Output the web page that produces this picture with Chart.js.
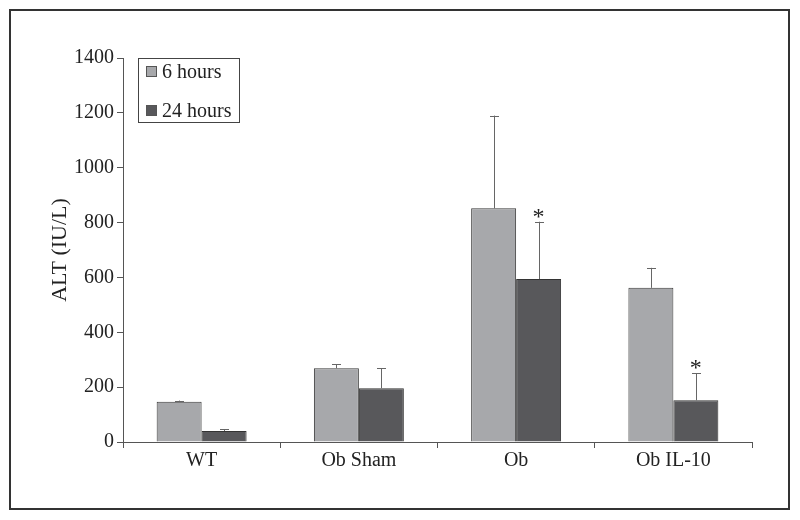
<!DOCTYPE html>
<html lang="en">
<head>
    <meta charset="UTF-8">
    <title>ALT (IU/L)</title>
    <script src="https://cdn.jsdelivr.net/npm/chart.js"></script>
    <style>
        body { margin: 0; background: #fff; }
        #grafico { display: block; }
    </style>
</head>
<body>
<canvas id="grafico" width="800" height="520"></canvas>
<script>
// data
const categories = ['WT', 'Ob Sham', 'Ob', 'Ob IL-10'];
const alt6h = [147, 269, 852, 562];
const alt24h = [40, 196, 594, 152];
const err6h = [4, 14, 338, 73];
const err24h = [6, 73, 209, 98];
const star24h = [false, false, true, true];
const yTicks = [0, 200, 400, 600, 800, 1000, 1200, 1400];

const fonte = '"Liberation Serif", "Times New Roman", serif';
const corTexto = '#222';
const corEixo = '#555';

// error bars (upward only) + asterisks
const barrasErro = {
    id: 'barrasErro',
    afterDatasetsDraw(chart) {
        const ctx = chart.ctx;
        const y = chart.scales.y;
        const erros = [err6h, err24h];
        const estrelas = [null, star24h];
        ctx.save();
        chart.data.datasets.forEach(function (ds, i) {
            const meta = chart.getDatasetMeta(i);
            meta.data.forEach(function (bar, j) {
                const topo = y.getPixelForValue(ds.data[j] + erros[i][j]);
                const base = y.getPixelForValue(ds.data[j]);
                ctx.strokeStyle = '#666';
                ctx.lineWidth = 1;
                ctx.beginPath();
                ctx.moveTo(Math.round(bar.x) + 0.5, base);
                ctx.lineTo(Math.round(bar.x) + 0.5, topo);
                ctx.moveTo(Math.round(bar.x) - 4, Math.round(topo) + 0.5);
                ctx.lineTo(Math.round(bar.x) + 5, Math.round(topo) + 0.5);
                ctx.stroke();
                if (estrelas[i] && estrelas[i][j]) {
                    ctx.fillStyle = corTexto;
                    ctx.font = '24px ' + fonte;
                    ctx.textAlign = 'center';
                    ctx.textBaseline = 'alphabetic';
                    ctx.fillText('*', bar.x, topo + 2);
                }
            });
        });
        ctx.restore();
    }
};

// legend box in the upper left of the plot + outer frame
const legendaMoldura = {
    id: 'legendaMoldura',
    afterDraw(chart) {
        const ctx = chart.ctx;
        ctx.save();
        ctx.strokeStyle = '#333';
        ctx.lineWidth = 2;
        ctx.strokeRect(10, 10, 779, 499);

        ctx.lineWidth = 1;
        ctx.strokeStyle = '#444';
        ctx.strokeRect(138.5, 58.5, 101, 64);
        ctx.font = '20px ' + fonte;
        ctx.textAlign = 'left';
        ctx.textBaseline = 'alphabetic';
        chart.data.datasets.forEach(function (ds, i) {
            const yy = 66 + i * 39;
            ctx.fillStyle = ds.backgroundColor;
            ctx.fillRect(146, yy, 11, 11);
            ctx.strokeStyle = '#555';
            ctx.strokeRect(146.5, yy + 0.5, 10, 10);
            ctx.fillStyle = corTexto;
            ctx.fillText(ds.label, 162, yy + 12);
        });
        ctx.restore();
    }
};

new Chart(document.getElementById('grafico'), {
    type: 'bar',
    data: {
        labels: categories,
        datasets: [{
            label: '6 hours',
            data: alt6h,
            backgroundColor: '#a7a8ab',
            borderColor: '#3a3a3a',
            borderWidth: 1,
            categoryPercentage: 0.572,
            barPercentage: 1
        }, {
            label: '24 hours',
            data: alt24h,
            backgroundColor: '#58585b',
            borderColor: '#333',
            borderWidth: 1,
            categoryPercentage: 0.572,
            barPercentage: 1
        }]
    },
    options: {
        responsive: false,
        animation: false,
        layout: {
            padding: { left: 0, right: 48, top: 58, bottom: 38 }
        },
        plugins: {
            legend: { display: false },
            tooltip: { enabled: false }
        },
        scales: {
            x: {
                afterFit(scale) { scale.height = 40; },
                grid: { offset: true, drawOnChartArea: false, drawTicks: true, tickLength: 6, color: corEixo },
                border: { color: corEixo, width: 1 },
                ticks: { color: corTexto, font: { family: fonte, size: 20 }, padding: 1 }
            },
            y: {
                min: 0,
                max: 1400,
                afterFit(scale) { scale.width = 123; },
                afterBuildTicks(scale) { scale.ticks = yTicks.map(v => ({ value: v })); },
                grid: { drawOnChartArea: false, drawTicks: true, tickLength: 6, color: corEixo },
                border: { color: corEixo, width: 1 },
                ticks: {
                    color: corTexto,
                    font: { family: fonte, size: 20 },
                    padding: 3,
                    callback: function (v) { return String(v); }
                },
                title: {
                    display: true,
                    text: 'ALT (IU/L)',
                    color: corTexto,
                    font: { family: fonte, size: 22 },
                    padding: { top: 47, bottom: 0 }
                }
            }
        }
    },
    plugins: [barrasErro, legendaMoldura]
});
</script>
</body>
</html>
